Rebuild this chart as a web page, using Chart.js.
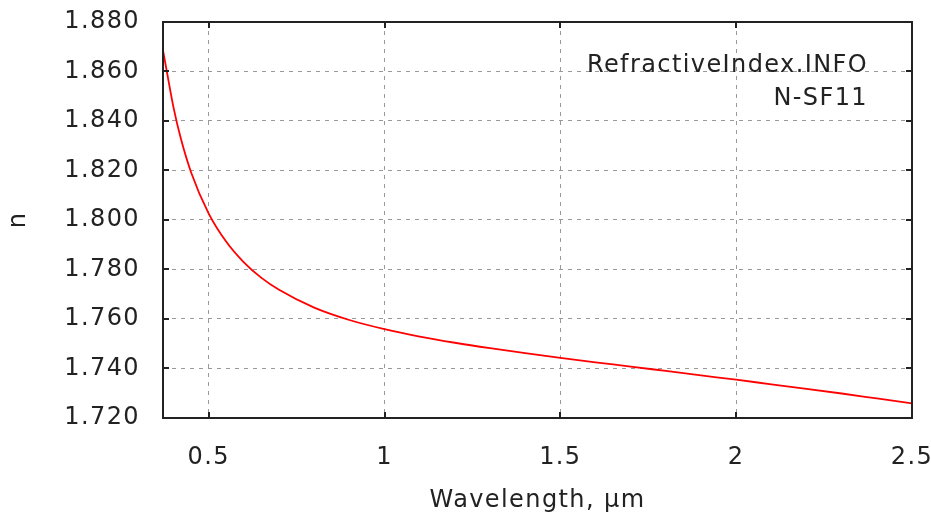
<!DOCTYPE html>
<html>
<head>
<meta charset="utf-8">
<script src="https://cdn.jsdelivr.net/npm/chart.js@4.4.1/dist/chart.umd.min.js"></script>
<style>
    html, body { margin: 0; padding: 0; background: #ffffff; }
    #wrap { width: 931px; height: 517px; }
</style>
</head>
<body>
<div id="wrap"><canvas id="grafik" width="931" height="517"></canvas></div>
<script>
// Data indeks bias N-SF11
const panjangGelombang = [0.37, 0.38, 0.40, 0.42, 0.45, 0.50, 0.55, 0.60, 0.65, 0.70, 0.80, 0.90, 1.00, 1.10, 1.20, 1.30, 1.40, 1.50, 1.60, 1.70, 1.80, 1.90, 2.00, 2.10, 2.20, 2.30, 2.40, 2.50];
const indeksBias = [1.8685, 1.8607, 1.8454, 1.8333, 1.8192, 1.8026, 1.7912, 1.7829, 1.7766, 1.7718, 1.7646, 1.7596, 1.7559, 1.7529, 1.7504, 1.7482, 1.7462, 1.7443, 1.7425, 1.7408, 1.7390, 1.7372, 1.7355, 1.7336, 1.7318, 1.7299, 1.7279, 1.7259];

// Label sumbu
const tickX = [0.5, 1, 1.5, 2, 2.5];
const tickY = [1.72, 1.74, 1.76, 1.78, 1.80, 1.82, 1.84, 1.86, 1.88];
const judulX = 'Wavelength, µm';
const judulY = 'n';
const keterangan = ['RefractiveIndex.INFO', 'N-SF11'];

const hurufUtama = { family: '"DejaVu Sans", sans-serif', size: 24 };
const warnaTeks = '#222222';
const jarakHuruf = '1.4px';

// Plugin untuk jarak huruf (teks gnuplot sedikit renggang)
const jarakPlugin = {
    id: 'jarakHuruf',
    beforeLayout(chart) { chart.ctx.letterSpacing = jarakHuruf; },
    beforeDraw(chart) { chart.ctx.letterSpacing = jarakHuruf; }
};

// Plugin untuk bingkai, tick ke dalam, dan teks keterangan
const bingkaiPlugin = {
    id: 'bingkai',
    afterDraw(chart) {
        const ctx = chart.ctx;
        const area = chart.chartArea;
        const sx = chart.scales.x;
        const sy = chart.scales.y;
        const panjangTick = 6;

        ctx.save();
        ctx.strokeStyle = '#222222';
        ctx.lineWidth = 2;
        ctx.setLineDash([]);

        // tick ke dalam
        ctx.beginPath();
        tickX.forEach(v => {
            const px = Math.round(sx.getPixelForValue(v));
            ctx.moveTo(px, area.bottom);
            ctx.lineTo(px, area.bottom - panjangTick);
            ctx.moveTo(px, area.top);
            ctx.lineTo(px, area.top + panjangTick);
        });
        tickY.forEach(v => {
            const py = Math.round(sy.getPixelForValue(v));
            ctx.moveTo(area.left, py);
            ctx.lineTo(area.left + panjangTick, py);
            ctx.moveTo(area.right, py);
            ctx.lineTo(area.right - panjangTick, py);
        });
        ctx.stroke();

        // bingkai
        ctx.strokeRect(area.left, area.top, area.right - area.left, area.bottom - area.top);

        // teks keterangan
        ctx.fillStyle = warnaTeks;
        ctx.font = '24px "DejaVu Sans", sans-serif';
        ctx.letterSpacing = jarakHuruf;
        ctx.textAlign = 'right';
        ctx.textBaseline = 'alphabetic';
        ctx.fillText(keterangan[0], area.right - 44, area.top + 50);
        ctx.fillText(keterangan[1], area.right - 44, area.top + 83);
        ctx.restore();
    }
};

document.addEventListener('DOMContentLoaded', function() {
    const ctx = document.getElementById('grafik').getContext('2d');
    window.grafikIndeks = new Chart(ctx, {
        type: 'line',
        data: {
            datasets: [{
                label: 'N-SF11',
                data: panjangGelombang.map((x, i) => ({ x: x, y: indeksBias[i] })),
                borderColor: '#ff0000',
                borderWidth: 1.8,
                pointRadius: 0,
                fill: false,
                cubicInterpolationMode: 'monotone'
            }]
        },
        options: {
            responsive: false,
            animation: false,
            layout: { padding: { top: 22, right: 19, left: 0, bottom: 0 } },
            plugins: {
                legend: { display: false },
                tooltip: { enabled: false }
            },
            scales: {
                x: {
                    type: 'linear',
                    min: 0.37,
                    max: 2.5,
                    afterBuildTicks: s => { s.ticks = tickX.map(v => ({ value: v })); },
                    afterFit: s => {
                        s.height = 99;
                        s.paddingLeft = 0;
                        s.paddingRight = 0;
                    },
                    grid: { color: '#999999', lineWidth: 1, drawTicks: false, borderDash: [4, 5] },
                    border: { display: false, dash: [4, 5] },
                    ticks: {
                        padding: 25,
                        font: hurufUtama,
                        color: warnaTeks,
                        maxRotation: 0,
                        callback: v => String(v)
                    },
                    title: {
                        display: true,
                        text: judulX,
                        font: hurufUtama,
                        color: warnaTeks,
                        padding: { top: 0, bottom: 2 }
                    }
                },
                y: {
                    type: 'linear',
                    min: 1.72,
                    max: 1.88,
                    afterBuildTicks: s => { s.ticks = tickY.map(v => ({ value: v })); },
                    afterFit: s => {
                        s.width = 163;
                        s.paddingTop = 0;
                        s.paddingBottom = 0;
                    },
                    grid: { color: '#999999', lineWidth: 1, drawTicks: false, borderDash: [4, 5] },
                    border: { display: false, dash: [4, 5] },
                    ticks: {
                        padding: 23,
                        font: hurufUtama,
                        color: warnaTeks,
                        callback: v => Number(v).toFixed(3)
                    },
                    title: {
                        display: true,
                        text: judulY,
                        font: hurufUtama,
                        color: warnaTeks,
                        padding: { top: 4, bottom: 0 }
                    }
                }
            }
        },
        plugins: [jarakPlugin, bingkaiPlugin]
    });
});
</script>
</body>
</html>
